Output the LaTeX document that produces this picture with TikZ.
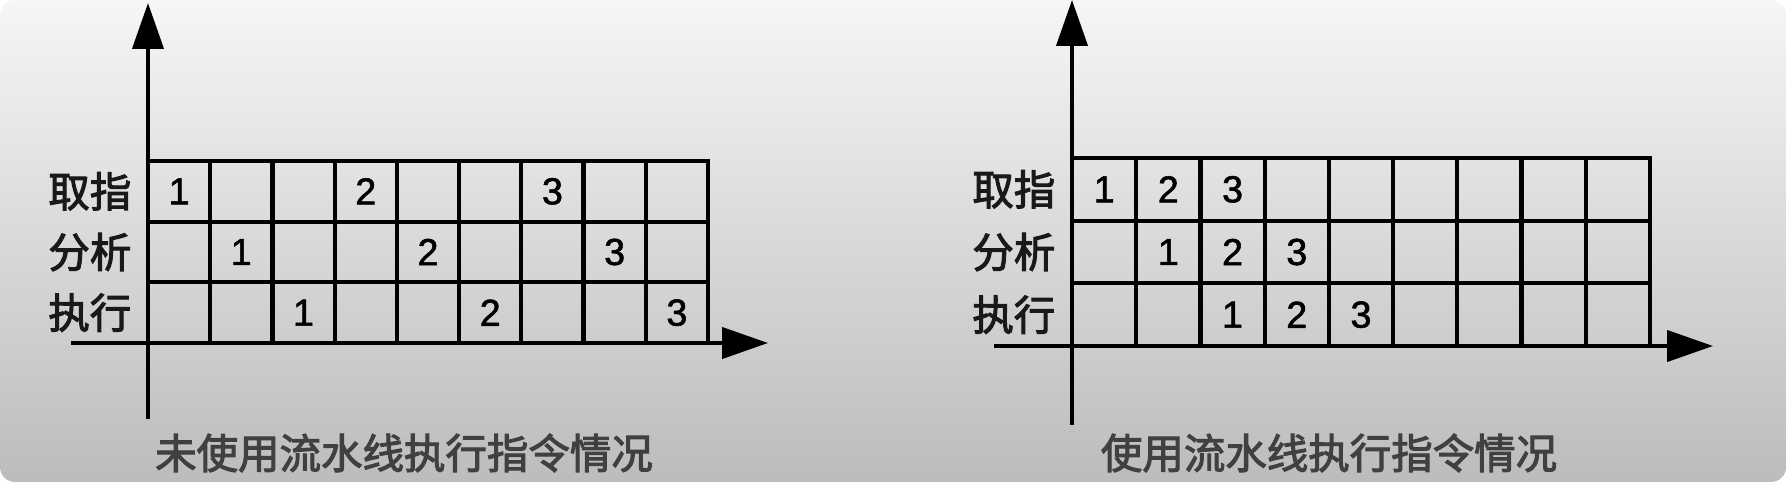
\documentclass[tikz,border=0pt]{standalone}
\usepackage{fontspec}
\setmainfont{Liberation Sans}
\newfontfamily\cjk[FakeBold=2.5]{Noto Sans CJK SC}
\newfontfamily\numfont[FakeBold=1.5]{Liberation Sans}
\usetikzlibrary{arrows.meta,positioning}
\definecolor{bgtop}{HTML}{F6F6F6}
\definecolor{bgbot}{HTML}{BCBCBC}
\tikzset{
  axis/.style    = {line width=0.42mm, -{Triangle[length=4.6mm,width=3.1mm]}},
  slotL/.style   = {draw, line width=0.42mm, inner sep=0pt, outer sep=0pt,
                    minimum width=6.222mm, minimum height=6.067mm},
  slotR/.style   = {slotL, minimum width=6.422mm, minimum height=6.267mm},
  digit/.style   = {font=\numfont\fontsize{10.7pt}{12pt}\selectfont, inner sep=0pt},
  stage/.style   = {font=\cjk\fontsize{11.8pt}{13pt}\selectfont, text=black!90, inner sep=0pt},
  caption/.style = {font=\cjk\fontsize{11.8pt}{13pt}\selectfont, text=black!75, inner sep=0pt}
}

\begin{document}
\begin{tikzpicture}[x=0.1mm, y=-0.1mm]
  % background
  \fill[white] (0,0) rectangle (1786,482);
  \shade[top color=bgtop, bottom color=bgbot, rounded corners=1.5mm] (0,0) rectangle (1786,482);
  \useasboundingbox (0,0) rectangle (1786,482);

  % without pipeline
  \foreach \r in {1,2,3}
    \foreach \c in {1,...,9}
      \node[slotL] (L-\r-\c) at ({148+(\c-0.5)*62.22},{161+(\r-0.5)*60.67}) {};
  \foreach \n in {1,2,3}
    \foreach \r in {1,2,3} {
      \pgfmathtruncatemacro\c{3*(\n-1)+\r}
      \node[digit] (Ln-\n-\r) at (L-\r-\c) {\n};
    }
  \foreach \lab [count=\r] in {取指,分析,执行}
    \node[stage, left=1.6mm of L-\r-1] (Lrow-\r) {\lab};
  \coordinate (Ly0) at (148,419);
  \coordinate (Ly1) at (148,3);
  \coordinate (Lx0) at (71,343);
  \coordinate (Lx1) at (768,343);
  \draw[axis] (Ly0) -- (Ly1);
  \draw[axis] (Lx0) -- (Lx1);
  \node[caption] (Lcap) at (404,453) {未使用流水线执行指令情况};

  % with pipeline
  \foreach \r in {1,2,3}
    \foreach \c in {1,...,9}
      \node[slotR] (R-\r-\c) at ({1072+(\c-0.5)*64.22},{158+(\r-0.5)*62.67}) {};
  \foreach \n in {1,2,3}
    \foreach \r in {1,2,3} {
      \pgfmathtruncatemacro\c{\n+\r-1}
      \node[digit] (Rn-\n-\r) at (R-\r-\c) {\n};
    }
  \foreach \lab [count=\r] in {取指,分析,执行}
    \node[stage, left=1.6mm of R-\r-1] (Rrow-\r) {\lab};
  \coordinate (Ry0) at (1072,425);
  \coordinate (Ry1) at (1072,0);
  \coordinate (Rx0) at (994,346);
  \coordinate (Rx1) at (1713,346);
  \draw[axis] (Ry0) -- (Ry1);
  \draw[axis] (Rx0) -- (Rx1);
  \node[caption] (Rcap) at (1329,453) {使用流水线执行指令情况};
\end{tikzpicture}
\end{document}
